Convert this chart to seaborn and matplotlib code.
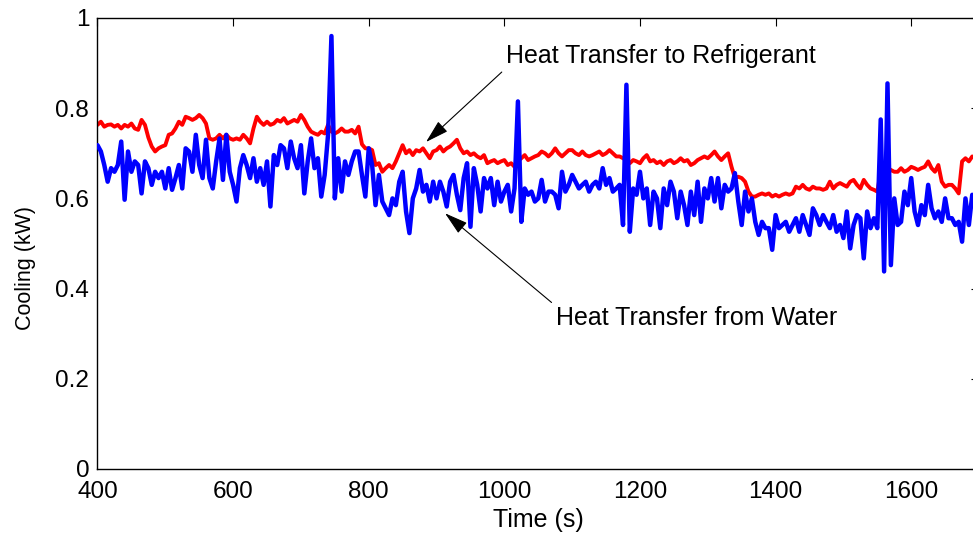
import numpy as np
import pandas as pd
import matplotlib
matplotlib.use("Agg")
import matplotlib.pyplot as plt
import seaborn as sns

# Heat transfer to the refrigerant, sampled every 5 s (kW)
refrigerant_time = np.arange(400, 1695, 5)
refrigerant_kw = [
    0.763, 0.770, 0.759, 0.763, 0.764, 0.759, 0.763, 0.755, 0.763, 0.759,
    0.766, 0.755, 0.752, 0.774, 0.763, 0.735, 0.715, 0.704, 0.711, 0.715,
    0.718, 0.741, 0.744, 0.755, 0.770, 0.763, 0.781, 0.778, 0.774, 0.778,
    0.785, 0.778, 0.766, 0.733, 0.730, 0.733, 0.741, 0.733, 0.741, 0.733,
    0.730, 0.733, 0.730, 0.741, 0.733, 0.722, 0.755, 0.781, 0.770, 0.763,
    0.770, 0.763, 0.766, 0.774, 0.770, 0.778, 0.766, 0.770, 0.774, 0.770,
    0.785, 0.774, 0.759, 0.748, 0.744, 0.741, 0.748, 0.744, 0.763, 0.748,
    0.744, 0.748, 0.755, 0.748, 0.748, 0.752, 0.744, 0.759, 0.720, 0.711,
    0.711, 0.707, 0.674, 0.678, 0.659, 0.667, 0.674, 0.667, 0.682, 0.700,
    0.718, 0.700, 0.707, 0.696, 0.707, 0.704, 0.711, 0.700, 0.689, 0.704,
    0.707, 0.715, 0.704, 0.711, 0.715, 0.722, 0.730, 0.711, 0.700, 0.704,
    0.696, 0.700, 0.693, 0.689, 0.696, 0.678, 0.682, 0.685, 0.678, 0.682,
    0.685, 0.674, 0.678, 0.670, 0.682, 0.689, 0.696, 0.685, 0.689, 0.693,
    0.696, 0.704, 0.700, 0.693, 0.700, 0.711, 0.700, 0.693, 0.700, 0.707,
    0.707, 0.700, 0.696, 0.704, 0.696, 0.693, 0.696, 0.700, 0.704, 0.696,
    0.700, 0.707, 0.700, 0.693, 0.693, 0.689, 0.685, 0.678, 0.685, 0.682,
    0.678, 0.689, 0.696, 0.682, 0.685, 0.678, 0.682, 0.674, 0.682, 0.685,
    0.678, 0.682, 0.689, 0.682, 0.685, 0.674, 0.678, 0.685, 0.689, 0.693,
    0.689, 0.696, 0.704, 0.693, 0.685, 0.693, 0.700, 0.670, 0.645, 0.648,
    0.645, 0.637, 0.615, 0.604, 0.604, 0.608, 0.611, 0.608, 0.611, 0.604,
    0.608, 0.604, 0.608, 0.611, 0.608, 0.611, 0.626, 0.622, 0.630, 0.622,
    0.619, 0.626, 0.622, 0.622, 0.619, 0.622, 0.637, 0.622, 0.630, 0.634,
    0.630, 0.626, 0.637, 0.641, 0.630, 0.622, 0.641, 0.630, 0.622, 0.619,
    0.615, 0.659, 0.667, 0.667, 0.663, 0.659, 0.659, 0.667, 0.659, 0.663,
    0.670, 0.667, 0.663, 0.667, 0.670, 0.682, 0.667, 0.659, 0.674, 0.637,
    0.626, 0.630, 0.630, 0.622, 0.611, 0.682, 0.689, 0.682, 0.693,
]

# Heat transfer from the water, sampled every 5 s (kW)
water_time = np.arange(400, 1695, 5)
water_kw = [
    0.718, 0.704, 0.674, 0.637, 0.667, 0.659, 0.674, 0.726, 0.597, 0.704,
    0.659, 0.682, 0.674, 0.611, 0.682, 0.667, 0.630, 0.659, 0.645, 0.659,
    0.622, 0.667, 0.619, 0.645, 0.674, 0.622, 0.711, 0.704, 0.659, 0.741,
    0.674, 0.645, 0.730, 0.645, 0.622, 0.682, 0.733, 0.641, 0.741, 0.659,
    0.630, 0.593, 0.667, 0.696, 0.674, 0.645, 0.689, 0.637, 0.667, 0.630,
    0.682, 0.582, 0.696, 0.674, 0.718, 0.711, 0.667, 0.726, 0.689, 0.667,
    0.718, 0.611, 0.682, 0.733, 0.667, 0.689, 0.604, 0.652, 0.741, 0.960,
    0.600, 0.689, 0.615, 0.682, 0.652, 0.682, 0.704, 0.704, 0.652, 0.604,
    0.711, 0.674, 0.585, 0.652, 0.593, 0.578, 0.563, 0.600, 0.585, 0.637,
    0.659, 0.571, 0.523, 0.600, 0.622, 0.663, 0.615, 0.630, 0.593, 0.637,
    0.600, 0.637, 0.615, 0.582, 0.637, 0.652, 0.608, 0.574, 0.645, 0.678,
    0.537, 0.667, 0.630, 0.571, 0.645, 0.622, 0.645, 0.585, 0.637, 0.593,
    0.615, 0.630, 0.571, 0.622, 0.815, 0.548, 0.622, 0.608, 0.615, 0.593,
    0.600, 0.641, 0.593, 0.615, 0.615, 0.608, 0.578, 0.659, 0.615, 0.630,
    0.652, 0.637, 0.622, 0.630, 0.637, 0.615, 0.630, 0.637, 0.622, 0.667,
    0.630, 0.645, 0.615, 0.622, 0.630, 0.541, 0.852, 0.526, 0.622, 0.608,
    0.659, 0.600, 0.622, 0.541, 0.615, 0.600, 0.534, 0.622, 0.585, 0.637,
    0.615, 0.556, 0.615, 0.585, 0.541, 0.615, 0.563, 0.637, 0.548, 0.622,
    0.600, 0.645, 0.593, 0.645, 0.578, 0.630, 0.615, 0.622, 0.656, 0.593,
    0.541, 0.615, 0.571, 0.600, 0.548, 0.519, 0.548, 0.534, 0.534, 0.486,
    0.563, 0.534, 0.541, 0.548, 0.526, 0.541, 0.556, 0.526, 0.563, 0.541,
    0.519, 0.578, 0.563, 0.541, 0.563, 0.548, 0.534, 0.563, 0.526, 0.541,
    0.512, 0.571, 0.489, 0.541, 0.563, 0.556, 0.467, 0.571, 0.534, 0.556,
    0.534, 0.775, 0.438, 0.855, 0.452, 0.600, 0.541, 0.548, 0.615, 0.585,
    0.645, 0.571, 0.541, 0.585, 0.563, 0.630, 0.578, 0.556, 0.571, 0.548,
    0.600, 0.556, 0.556, 0.541, 0.548, 0.504, 0.600, 0.541, 0.608,
]

x_ticks = [400, 600, 800, 1000, 1200, 1400, 1600]
y_ticks = [0, 0.2, 0.4, 0.6, 0.8, 1.0]
y_tick_labels = ["0", "0.2", "0.4", "0.6", "0.8", "1"]

refrigerant = pd.DataFrame({"Time (s)": refrigerant_time, "Cooling (kW)": refrigerant_kw})
water = pd.DataFrame({"Time (s)": water_time, "Cooling (kW)": water_kw})

sns.set_theme(style="white")
plt.rcParams["font.family"] = ["Liberation Sans", "DejaVu Sans"]

fig = plt.figure(figsize=(9.73, 5.40), dpi=100)
ax = fig.add_axes([0.1002, 0.1315, 0.906, 0.8352])

sns.lineplot(data=refrigerant, x="Time (s)", y="Cooling (kW)", color="#ff0000",
             linewidth=2.8, ax=ax, zorder=2)
sns.lineplot(data=water, x="Time (s)", y="Cooling (kW)", color="#0000ff",
             linewidth=3.2, ax=ax, zorder=3)

ax.set_xlim(400, 1700)
ax.set_ylim(0, 1)
ax.set_xticks(x_ticks)
ax.set_xticklabels([str(t) for t in x_ticks])
ax.set_yticks(y_ticks)
ax.set_yticklabels(y_tick_labels)

ax.tick_params(axis="both", direction="in", length=6, width=0.8, color="black",
               top=True, right=True, labelsize=17.5, labelcolor="black")
ax.tick_params(axis="x", pad=9)
ax.tick_params(axis="y", pad=6)
for side in ax.spines.values():
    side.set_visible(True)
    side.set_color("black")
    side.set_linewidth(1.0)

ax.set_xlabel("Time (s)", fontsize=18, color="black", labelpad=3)
ax.set_ylabel("Cooling (kW)", fontsize=15.5, color="black", ha="center", va="center")
ax.yaxis.set_label_coords(-0.0822, 0.446)

arrow_style = "-|>,head_length=1.45,head_width=0.42"
ax.annotate("Heat Transfer to Refrigerant", xy=(884.5, 0.725), xytext=(1002.5, 0.900),
            fontsize=18, color="black", ha="left", va="baseline",
            arrowprops=dict(arrowstyle=arrow_style, color="black", lw=0.8,
                            mutation_scale=10, shrinkA=1, shrinkB=0,
                            relpos=(0.0, 0.0)))
ax.annotate("Heat Transfer from Water", xy=(912.5, 0.567), xytext=(1076, 0.319),
            fontsize=18, color="black", ha="left", va="baseline",
            arrowprops=dict(arrowstyle=arrow_style, color="black", lw=0.8,
                            mutation_scale=10, shrinkA=1, shrinkB=0,
                            relpos=(0.0, 1.0)))

fig.savefig("out.png", dpi=100)
